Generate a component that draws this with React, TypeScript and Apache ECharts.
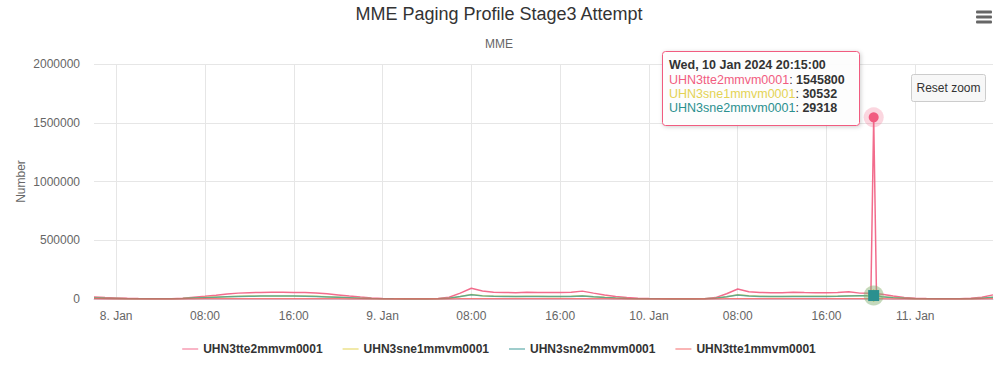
import React, { useEffect, useRef } from 'react';
import * as echarts from 'echarts';

const FONT = "'Liberation Sans', Arial, Helvetica, sans-serif";

const titleText = 'MME Paging Profile Stage3 Attempt';
const subtitleText = 'MME';
const yAxisName = 'Number';

const seriesNames = ['UHN3tte2mmvm0001', 'UHN3sne1mmvm0001', 'UHN3sne2mmvm0001', 'UHN3tte1mmvm0001'];
const seriesColors = ['#f15c80', '#e4d354', '#2b908f', '#f45b5b'];
const legendColors = ['rgba(241,92,128,0.45)', 'rgba(228,211,84,0.5)', 'rgba(43,144,143,0.45)', 'rgba(244,91,91,0.45)'];

// x ticks (hours since 8 Jan 2024 00:00)
const xTickValues = [0, 8, 16, 24, 32, 40, 48, 56, 64, 72];
const xTickLabels = ['8. Jan', '08:00', '16:00', '9. Jan', '08:00', '16:00', '10. Jan', '08:00', '16:00', '11. Jan'];
const xMin = -2;
const xMax = 79;

const yTickMax = 2000000;
const yTickStep = 500000;

// sample times, hours since 8 Jan 2024 00:00
const times = [
  -2, -1,
  0, 1, 2, 3, 4, 5, 6, 7, 8, 9, 10, 11, 12, 13, 14, 15, 16, 17, 18, 19, 20, 21, 22, 23,
  24, 25, 26, 27, 28, 29, 30, 31, 32, 33, 34, 35, 36, 37, 38, 39, 40, 41, 42, 43, 44, 45, 46, 47,
  48, 49, 50, 51, 52, 53, 54, 55, 56, 57, 58, 59, 60, 61, 62, 63, 64, 65, 66, 67, 68, 68.25, 68.5, 69, 70, 71,
  72, 73, 74, 75, 76, 77, 78, 79,
];

const tte2 = [
  16000, 12000,
  9000, 6000, 4000, 3000, 2500, 3000, 7000, 15000, 23000, 32000, 42000, 50000, 54000, 56000, 57000, 57000, 56000, 55000, 52000, 45000, 35000, 25000, 16000, 8000,
  4000, 3000, 2000, 2000, 2000, 4000, 15000, 50000, 92000, 68000, 57000, 55000, 54000, 58000, 56000, 55000, 55000, 58000, 67000, 50000, 35000, 22000, 12000, 6000,
  4000, 3000, 2000, 2000, 2000, 3000, 12000, 45000, 85000, 62000, 55000, 53000, 54000, 57000, 55000, 54000, 54000, 55000, 62000, 50000, 48000, 1545800, 45000, 40000, 25000, 12000,
  6000, 4000, 3000, 2500, 3000, 6000, 15000, 35000,
];

const sne1 = [
  8000, 6000,
  5000, 3000, 2000, 1500, 1500, 2000, 4000, 8000, 12000, 16000, 20000, 23000, 25000, 26000, 26000, 26000, 26000, 25000, 23000, 19000, 15000, 11000, 7000, 4000,
  2500, 1500, 1000, 1000, 1000, 2000, 7000, 22000, 38000, 28000, 24000, 23000, 22000, 23000, 23000, 22000, 22000, 23000, 27000, 20000, 14000, 9000, 5000, 3000,
  2500, 1500, 1000, 1000, 1000, 1500, 6000, 20000, 36000, 27000, 23000, 22000, 22000, 23000, 23000, 23000, 23000, 24000, 27000, 28000, 29000, 30532, 28000, 20000, 12000, 6000,
  3000, 2000, 1500, 1200, 1500, 3000, 7000, 15000,
];

const sne2 = [
  7600, 5700,
  4700, 2800, 1900, 1400, 1400, 1900, 3800, 7600, 11400, 15200, 19000, 21800, 23700, 24700, 24800, 24700, 24600, 23800, 21900, 18000, 14300, 10400, 6600, 3800,
  2400, 1400, 950, 950, 950, 1900, 6600, 20900, 36200, 26600, 22800, 21900, 20900, 21800, 21900, 20900, 20900, 21800, 25700, 19000, 13300, 8500, 4700, 2800,
  2400, 1400, 950, 950, 950, 1400, 5700, 19000, 34300, 25700, 21900, 20900, 20900, 21800, 21900, 21800, 21900, 22800, 25700, 26600, 27600, 29318, 26600, 19000, 11400, 5700,
  2800, 1900, 1400, 1100, 1400, 2800, 6600, 14200,
];

const tte1 = [
  1200, 900,
  700, 500, 400, 300, 300, 400, 600, 900, 1200, 1500, 1800, 2000, 2100, 2200, 2200, 2200, 2100, 2000, 1900, 1600, 1300, 1000, 800, 600,
  400, 300, 200, 200, 200, 300, 700, 1500, 2500, 2000, 1800, 1700, 1700, 1800, 1800, 1700, 1700, 1800, 2000, 1600, 1200, 900, 600, 400,
  400, 300, 200, 200, 200, 300, 600, 1400, 2300, 1900, 1700, 1700, 1700, 1800, 1800, 1700, 1700, 1800, 1900, 1800, 1700, null, null, 1300, 900, 500,
  400, 300, 200, 200, 200, 300, 600, 1200,
];

const seriesValues = [tte2, sne1, sne2, tte1];

const WEEKDAYS = ['Sun', 'Mon', 'Tue', 'Wed', 'Thu', 'Fri', 'Sat'];
const MONTHS = ['Jan', 'Feb', 'Mar', 'Apr', 'May', 'Jun', 'Jul', 'Aug', 'Sep', 'Oct', 'Nov', 'Dec'];
const pad = (n: number) => (n < 10 ? '0' + n : '' + n);
function formatTime(h: number) {
  const d = new Date(Date.UTC(2024, 0, 8) + h * 3600000);
  return `${WEEKDAYS[d.getUTCDay()]}, ${d.getUTCDate()} ${MONTHS[d.getUTCMonth()]} ${d.getUTCFullYear()} ${pad(d.getUTCHours())}:${pad(d.getUTCMinutes())}:${pad(d.getUTCSeconds())}`;
}

export default function App() {
  const ref = useRef<HTMLDivElement>(null);

  useEffect(() => {
    if (!ref.current) return;
    const chart = echarts.init(ref.current, undefined, { renderer: 'svg' });

    // hovered point = maximum of first series
    let hi = 0;
    tte2.forEach((v, i) => { if (v > tte2[hi]) hi = i; });
    const ht = times[hi];

    const tipFont = (bold: boolean) => `${bold ? 'bold ' : ''}12.5px ${FONT}`;
    const tipRich: any = {
      d: { font: tipFont(true), fill: '#333', lineHeight: 14.4 },
      c: { font: tipFont(false), fill: '#333', lineHeight: 14.4 },
      v: { font: tipFont(true), fill: '#333', lineHeight: 14.4 },
    };
    const tipLines = [`{d|${formatTime(ht)}}`];
    seriesValues.forEach((arr, si) => {
      const v = arr[hi];
      if (v === null || v === undefined) return;
      tipRich['n' + si] = { font: tipFont(false), fill: seriesColors[si], lineHeight: 14.4 };
      tipLines.push(`{n${si}|${seriesNames[si]}}{c|: }{v|${v}}`);
    });

    const haloColors = ['rgba(241,92,128,0.25)', 'rgba(228,211,84,0.3)', 'rgba(43,144,143,0.25)', 'rgba(244,91,91,0.25)'];
    const markerSymbols = ['circle', 'diamond', 'rect', 'circle'];
    const markerSizes = [10, 13, 11, 8];

    const series = seriesValues.map((arr, si) => {
      const v = arr[hi];
      const mp =
        v === null || v === undefined
          ? undefined
          : {
              silent: true,
              label: { show: false },
              animation: false,
              data: [
                { coord: [ht, v], symbol: 'circle', symbolSize: 20, itemStyle: { color: haloColors[si] } },
                { coord: [ht, v], symbol: markerSymbols[si], symbolSize: markerSizes[si], itemStyle: { color: seriesColors[si] } },
              ],
            };
      return {
        name: seriesNames[si],
        type: 'line',
        data: times.map((t, i) => [t, arr[i] === undefined ? null : arr[i]]),
        showSymbol: false,
        connectNulls: true,
        color: seriesColors[si],
        lineStyle: { width: 1.5, color: seriesColors[si], opacity: si === 0 ? 0.9 : si === 2 ? 0.7 : 0.8 },
        emphasis: { disabled: true },
        markPoint: mp,
        z: 2,
      };
    });

    const option: any = {
      animation: false,
      textStyle: { fontFamily: FONT },
      title: {
        text: titleText,
        subtext: subtitleText,
        left: 'center',
        top: 0,
        itemGap: 15,
        textStyle: { fontSize: 18, fontWeight: 'normal', color: '#333', fontFamily: FONT },
        subtextStyle: { fontSize: 12, color: '#666', fontFamily: FONT },
      },
      grid: { left: 94, right: 5, top: 64, bottom: 71 },
      legend: {
        top: 343,
        left: 'center',
        padding: 0,
        itemWidth: 16,
        itemHeight: 2,
        itemGap: 20,
        icon: 'rect',
        textStyle: { fontSize: 12, fontWeight: 'bold', color: '#333', fontFamily: FONT },
        data: seriesNames.map((n, i) => ({ name: n, itemStyle: { color: legendColors[i] } })),
      },
      xAxis: {
        type: 'value',
        min: xMin,
        max: xMax,
        axisLine: { show: true, lineStyle: { color: '#ccd6eb' } },
        axisTick: { show: false, customValues: xTickValues },
        axisLabel: {
          customValues: xTickValues,
          color: '#666',
          fontSize: 12,
          margin: 11,
          formatter: (v: number) => {
            const k = xTickValues.indexOf(v);
            return k >= 0 ? xTickLabels[k] : '';
          },
        },
        splitLine: { show: true, lineStyle: { color: '#e6e6e6', width: 1 } },
      },
      yAxis: {
        type: 'value',
        min: 0,
        max: yTickMax,
        interval: yTickStep,
        name: yAxisName,
        nameLocation: 'middle',
        nameGap: 67,
        nameMoveOverlap: false,
        nameTextStyle: { color: '#666', fontSize: 12, fontFamily: FONT },
        axisLine: { show: false },
        axisTick: { show: false },
        axisLabel: { color: '#666', fontSize: 12, margin: 14, formatter: (v: number) => String(v) },
        splitLine: { lineStyle: { color: '#e6e6e6', width: 1 } },
      },
      series,
      graphic: [
        // menu icon
        { type: 'rect', shape: { x: 976, y: 10.5, width: 16, height: 3, r: 1 }, style: { fill: '#666' } },
        { type: 'rect', shape: { x: 976, y: 15.5, width: 16, height: 3, r: 1 }, style: { fill: '#666' } },
        { type: 'rect', shape: { x: 976, y: 20.5, width: 16, height: 3, r: 1 }, style: { fill: '#666' } },
        // reset zoom button
        {
          type: 'rect',
          z: 10,
          shape: { x: 911.5, y: 74.5, width: 74, height: 27, r: 2 },
          style: { fill: '#f7f7f7', stroke: '#cccccc', lineWidth: 1 },
        },
        {
          type: 'text',
          z: 11,
          style: { x: 948.5, y: 88, text: 'Reset zoom', fill: '#333', font: `12px ${FONT}`, align: 'center', verticalAlign: 'middle' },
        },
        // tooltip
        {
          type: 'rect',
          z: 20,
          shape: { x: 662.5, y: 51.5, width: 197, height: 74, r: 3 },
          style: {
            fill: 'rgba(255,255,255,0.92)',
            stroke: seriesColors[0],
            lineWidth: 1,
            shadowBlur: 4,
            shadowOffsetX: 1,
            shadowOffsetY: 1,
            shadowColor: 'rgba(0,0,0,0.2)',
          },
        },
        {
          type: 'text',
          z: 21,
          style: {
            x: 669,
            y: 58,
            text: tipLines.join('\n'),
            rich: tipRich,
            verticalAlign: 'top',
            align: 'left',
          },
        },
      ],
    };

    chart.setOption(option);
    return () => chart.dispose();
  }, []);

  return <div ref={ref} style={{ position: 'absolute', left: 0, top: 0, width: 998, height: 370 }} />;
}
